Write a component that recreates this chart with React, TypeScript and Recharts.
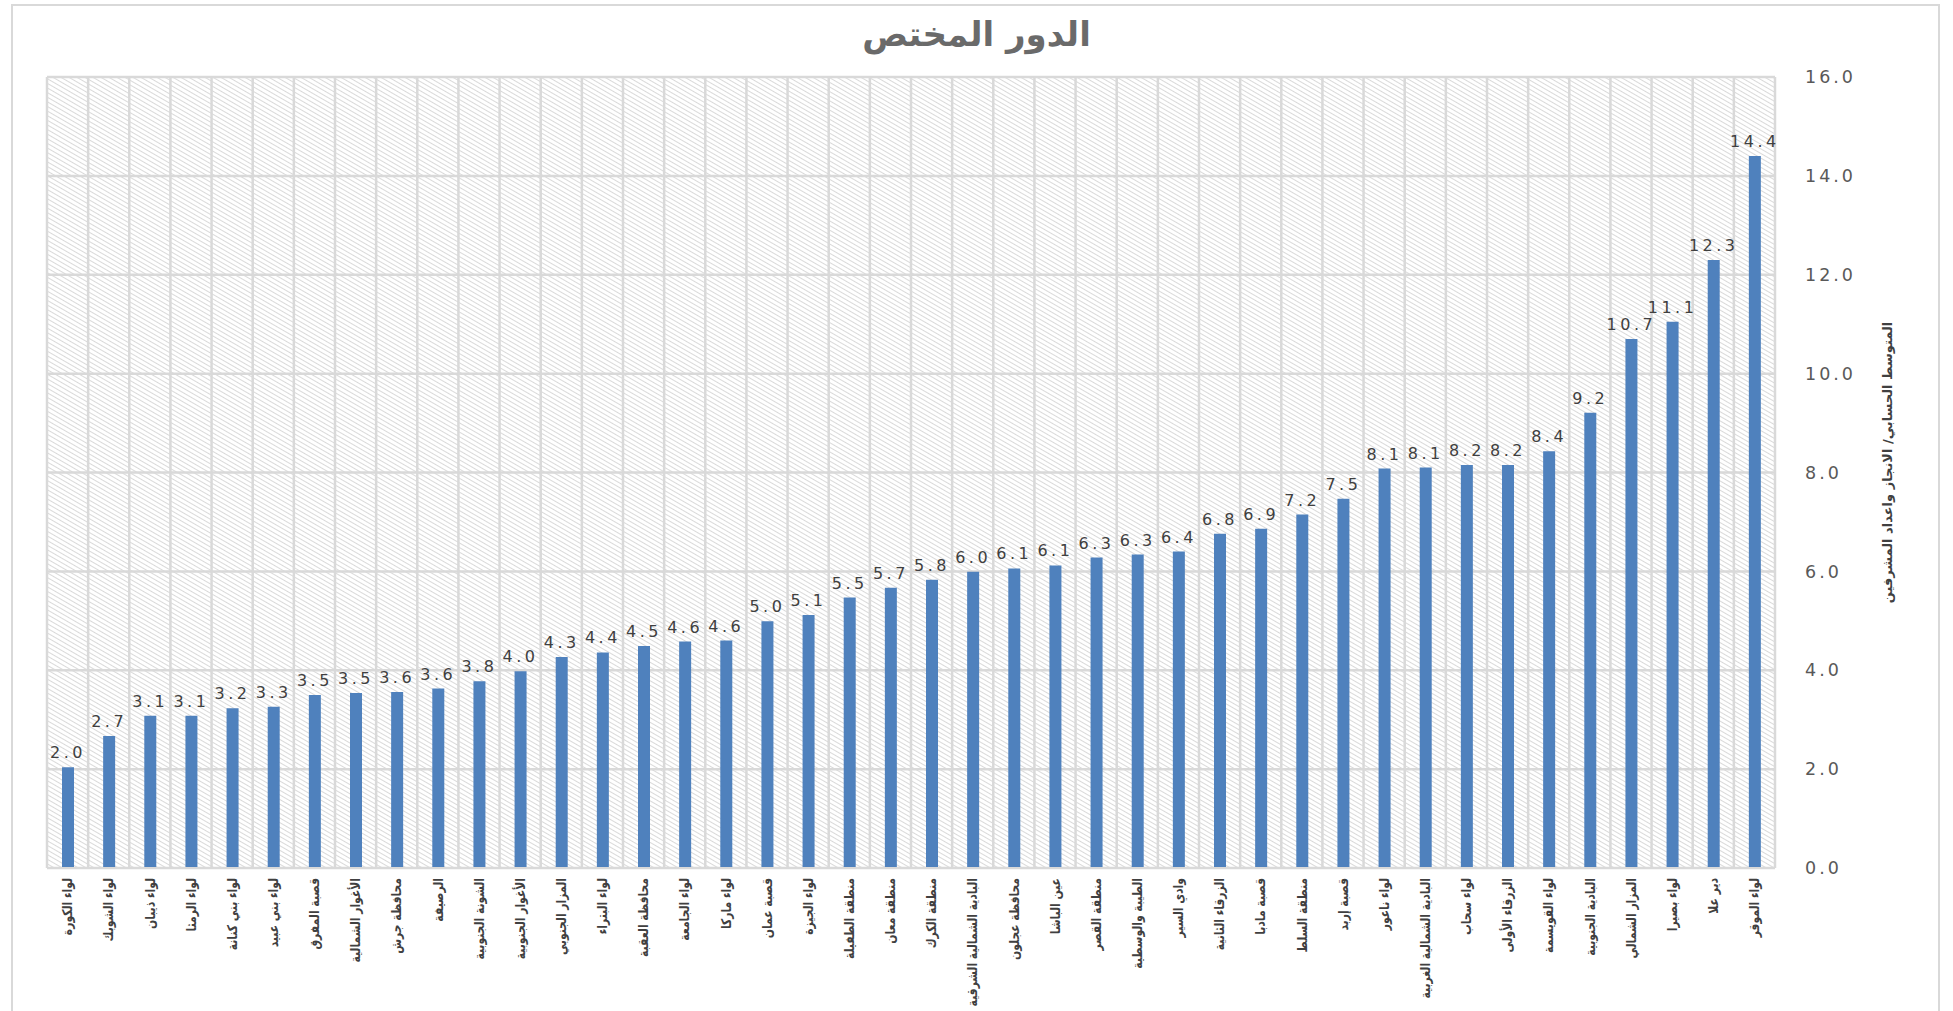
import React from 'react';
import { BarChart, Bar, XAxis, YAxis, CartesianGrid, LabelList } from 'recharts';

const categories: string[] = [
  'لواء الكورة',
  'لواء الشوبك',
  'لواء ذيبان',
  'لواء الرمثا',
  'لواء بني كنانة',
  'لواء بني عبيد',
  'قصبة المفرق',
  'الأغوار الشمالية',
  'محافظة جرش',
  'الرصيفة',
  'الشونة الجنوبية',
  'الأغوار الجنوبية',
  'المزار الجنوبي',
  'لواء البتراء',
  'محافظة العقبة',
  'لواء الجامعة',
  'لواء ماركا',
  'قصبة عمان',
  'لواء الجيزة',
  'منطقة الطفيلة',
  'منطقة معان',
  'منطقة الكرك',
  'البادية الشمالية الشرقية',
  'محافظة عجلون',
  'عين الباشا',
  'منطقة القصر',
  'الطيبة والوسطية',
  'وادي السير',
  'الزرقاء الثانية',
  'قصبة مادبا',
  'منطقة السلط',
  'قصبة إربد',
  'لواء ناعور',
  'البادية الشمالية الغربية',
  'لواء سحاب',
  'الزرقاء الأولى',
  'لواء القويسمة',
  'البادية الجنوبية',
  'المزار الشمالي',
  'لواء بصيرا',
  'دير علا',
  'لواء الموقر',
];

const values: number[] = [
  2.04, 2.67, 3.08, 3.08, 3.23, 3.26, 3.50, 3.54, 3.56, 3.63, 3.78, 3.98,
  4.27, 4.36, 4.49, 4.58, 4.60, 4.99, 5.12, 5.47, 5.67, 5.83, 5.99, 6.06,
  6.12, 6.28, 6.34, 6.40, 6.76, 6.86, 7.15, 7.47, 8.08, 8.10, 8.15, 8.15,
  8.43, 9.21, 10.70, 11.05, 12.30, 14.40,
];

const yTicks: number[] = [0, 2, 4, 6, 8, 10, 12, 14, 16];

const titleText = 'الدور المختص';
const yAxisTitle = 'المتوسط الحسابي/ الانجاز واعداد المشرفين';

const data = categories.map((name, i) => ({ name, value: values[i] }));

const XTick = (props: any) => {
  const { x, y, payload } = props;
  return (
    <g transform={`translate(${x},${y})`}>
      <text
        transform="rotate(-90) scale(0.8,1)"
        textAnchor="end"
        dy="0.35em"
        fill="#404040"
        fontSize={13.5}
        fontWeight="bold"
        fontFamily="DejaVu Sans"
      >
        {payload.value}
      </text>
    </g>
  );
};

const YTitle = (props: any) => {
  const vb = props.viewBox || {};
  const cx = vb.x + vb.width + 32;
  const cy = vb.y + vb.height / 2 - 10;
  return (
    <text
      x={cx}
      y={cy}
      transform={`rotate(-90, ${cx}, ${cy})`}
      textAnchor="middle"
      dominantBaseline="central"
      fill="#404040"
      fontSize={13}
      fontWeight="bold"
      fontFamily="DejaVu Sans"
    >
      {yAxisTitle}
    </text>
  );
};

const N = categories.length;

export default function App() {
  return (
    <div style={{ position: 'absolute', left: 0, top: 0, width: 1953, height: 1011, background: '#fff', overflow: 'hidden' }}>
      <style>{'body{margin:0}'}</style>
      <div
        style={{
          position: 'absolute',
          left: 11,
          top: 4,
          width: 1929,
          height: 1020,
          borderLeft: '2px solid #d9d9d9',
          borderTop: '2px solid #d9d9d9',
          borderRight: '2px solid #d9d9d9',
          boxSizing: 'border-box',
        }}
      />
      <div
        style={{
          position: 'absolute',
          left: 0,
          width: 1953,
          top: 14,
          textAlign: 'center',
          fontFamily: 'DejaVu Sans',
          fontWeight: 'bold',
          fontSize: 34,
          color: '#6a6a6a',
        }}
      >
        {titleText}
      </div>
      <div style={{ position: 'absolute', left: 0, top: 0 }}>
        <BarChart
          width={1953}
          height={1011}
          data={data}
          margin={{ top: 77, right: 98, bottom: 13, left: 47 }}
          barSize={12}
        >
          <defs>
            <pattern id="hatch" width="4" height="4" patternUnits="userSpaceOnUse" patternTransform="rotate(30)">
              <line x1="0" y1="0.5" x2="4" y2="0.5" stroke="#d9d9d9" strokeWidth="1" />
            </pattern>
          </defs>
          <CartesianGrid
            fill="url(#hatch)"
            stroke="#d9d9d9"
            strokeWidth={2.5}
            verticalCoordinatesGenerator={(p: any) => {
              const o = p.offset;
              return Array.from({ length: N + 1 }, (_, i) => o.left + (i * o.width) / N);
            }}
          />
          <XAxis
            dataKey="name"
            interval={0}
            height={130}
            tickLine={false}
            axisLine={{ stroke: '#d9d9d9', strokeWidth: 2 }}
            tickSize={0}
            tickMargin={10}
            tick={<XTick />}
          />
          <YAxis
            orientation="right"
            domain={[0, 16]}
            ticks={yTicks}
            width={80}
            axisLine={false}
            tickLine={false}
            tickSize={0}
            tickMargin={30}
            tickFormatter={(v: number) => v.toFixed(1)}
            tick={{ fill: '#595959', fontSize: 17.5, fontFamily: 'DejaVu Sans', style: { letterSpacing: '3px' } } as any}
            label={<YTitle />}
          />
          <Bar dataKey="value" fill="#4f81bd" isAnimationActive={false}>
            <LabelList
              dataKey="value"
              position="top"
              offset={9}
              formatter={(v: any) => Number(v).toFixed(1)}
              fill="#404040"
              fontSize={16}
              fontFamily="DejaVu Sans"
              style={{ letterSpacing: '3.5px' }}
            />
          </Bar>
        </BarChart>
      </div>
    </div>
  );
}
